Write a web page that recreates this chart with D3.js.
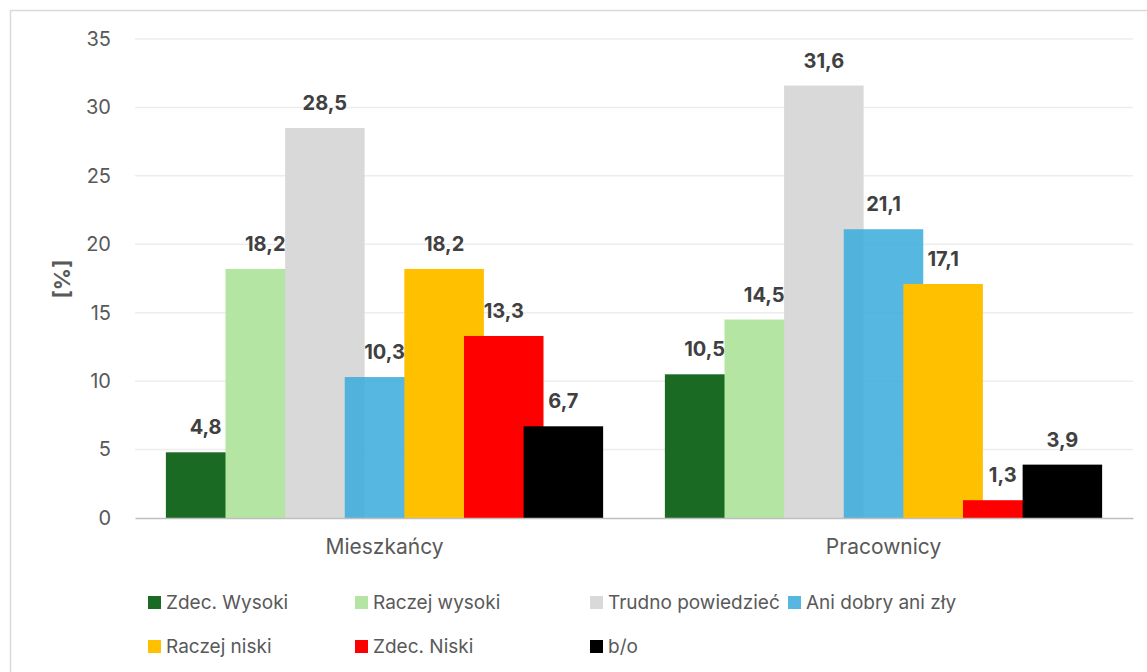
<!DOCTYPE html>
<html>
<head>
<meta charset="utf-8">
<script src="https://cdn.jsdelivr.net/npm/d3@7"></script>
<style>
  body { margin: 0; background: #fff; }
  text { font-family: Inter, "Open Sans", sans-serif; }
</style>
</head>
<body>
<div id="chart"></div>
<script>
// data
var categories = ["Mieszkańcy", "Pracownicy"];
var seriesNames = ["Zdec. Wysoki", "Raczej wysoki", "Trudno powiedzieć", "Ani dobry ani zły", "Raczej niski", "Zdec. Niski", "b/o"];
var seriesColors = ["#1b6a23", "#b4e5a2", "#d9d9d9", "#38abda", "#ffc000", "#ff0000", "#000000"];
var mieszkancy = [4.8, 18.2, 28.5, 10.3, 18.2, 13.3, 6.7];
var pracownicy = [10.5, 14.5, 31.6, 21.1, 17.1, 1.3, 3.9];
var yTicks = [0, 5, 10, 15, 20, 25, 30, 35];

var values = [mieszkancy, pracownicy];

var svgWidth = 1147, svgHeight = 672;
var margin = { top: 39, right: 14, bottom: 154, left: 135 };
var width = svgWidth - margin.left - margin.right;
var height = svgHeight - margin.top - margin.bottom;

var svg = d3.select("#chart")
    .append("svg")
    .attr("width", svgWidth)
    .attr("height", svgHeight);

// chart border
svg.append("rect")
    .attr("x", 10.5).attr("y", 10.5)
    .attr("width", svgWidth).attr("height", svgHeight)
    .attr("fill", "none")
    .attr("stroke", "#d9d9d9")
    .attr("stroke-width", 1.5);

var g = svg.append("g")
    .attr("transform", "translate(" + margin.left + "," + margin.top + ")");

var xScale = d3.scaleBand()
    .domain(categories)
    .range([0, width])
    .padding(0);

var yScale = d3.scaleLinear()
    .domain([0, 35])
    .range([height, 0]);

// bar geometry inside a group (overlapping bars)
var barWidth = 79.5;
var overlap = 0.25;
var step = barWidth * (1 - overlap);
var groupWidth = step * (seriesNames.length - 1) + barWidth;
var inner = d3.scaleLinear()
    .domain([0, seriesNames.length - 1])
    .range([(xScale.bandwidth() - groupWidth) / 2, (xScale.bandwidth() - groupWidth) / 2 + step * (seriesNames.length - 1)]);

// gridlines
g.append("g")
    .selectAll("line")
    .data(yTicks.slice(1))
    .enter().append("line")
    .attr("x1", 0).attr("x2", width)
    .attr("y1", function(d) { return yScale(d); })
    .attr("y2", function(d) { return yScale(d); })
    .attr("stroke", "#ededed")
    .attr("stroke-width", 1.5);

// y axis
var yAxis = d3.axisLeft(yScale).tickValues(yTicks).tickSize(0).tickPadding(24);
var yAxisGroup = g.append("g").call(yAxis);
yAxisGroup.select(".domain").remove();
yAxisGroup.selectAll("text")
    .style("font-size", "20px")
    .attr("fill", "#595959");

// bars, series by series so later ones sit on top
seriesNames.forEach(function(name, si) {
    g.append("g")
        .selectAll("rect")
        .data(categories)
        .enter().append("rect")
        .attr("x", function(c) { return xScale(c) + inner(si); })
        .attr("y", function(c, ci) { return yScale(values[ci][si]); })
        .attr("width", barWidth)
        .attr("height", function(c, ci) { return height - yScale(values[ci][si]); })
        .attr("fill", seriesColors[si])
        .attr("fill-opacity", si === 3 ? 0.85 : 1);
});

// x axis
var xAxis = d3.axisBottom(xScale).tickSize(0).tickPadding(21);
var xAxisGroup = g.append("g")
    .attr("transform", "translate(0," + height + ")")
    .call(xAxis);
xAxisGroup.select(".domain").attr("stroke", "#bfbfbf").attr("stroke-width", 1.5);
xAxisGroup.selectAll("text")
    .style("font-size", "21px")
    .attr("fill", "#595959");

// value labels
seriesNames.forEach(function(name, si) {
    g.append("g")
        .selectAll("text")
        .data(categories)
        .enter().append("text")
        .attr("x", function(c) { return xScale(c) + inner(si) + barWidth / 2; })
        .attr("y", function(c, ci) { return yScale(values[ci][si]) - 18; })
        .attr("text-anchor", "middle")
        .style("font-size", "20px")
        .style("font-weight", "bold")
        .attr("fill", "#404040")
        .text(function(c, ci) { return d3.format(".1f")(values[ci][si]).replace(".", ","); });
});

// y title
svg.append("text")
    .attr("transform", "translate(70,279) rotate(-90)")
    .attr("text-anchor", "middle")
    .style("font-size", "22px")
    .style("font-weight", "bold")
    .attr("fill", "#595959")
    .text("[%]");

// legend
var legendCols = [148, 355, 590, 788];
var legendRows = [602, 646];
var legend = svg.append("g")
    .selectAll("g")
    .data(seriesNames)
    .enter().append("g")
    .attr("transform", function(d, i) {
        return "translate(" + legendCols[i % 4] + "," + legendRows[Math.floor(i / 4)] + ")";
    });
legend.append("rect")
    .attr("x", 0).attr("y", -6)
    .attr("width", 13).attr("height", 13)
    .attr("fill", function(d, i) { return seriesColors[i]; })
    .attr("fill-opacity", function(d, i) { return i === 3 ? 0.85 : 1; });
legend.append("text")
    .attr("x", 18).attr("y", 0)
    .attr("dy", "0.35em")
    .style("font-size", "19px")
    .attr("fill", "#595959")
    .text(function(d) { return d; });
</script>
</body>
</html>
